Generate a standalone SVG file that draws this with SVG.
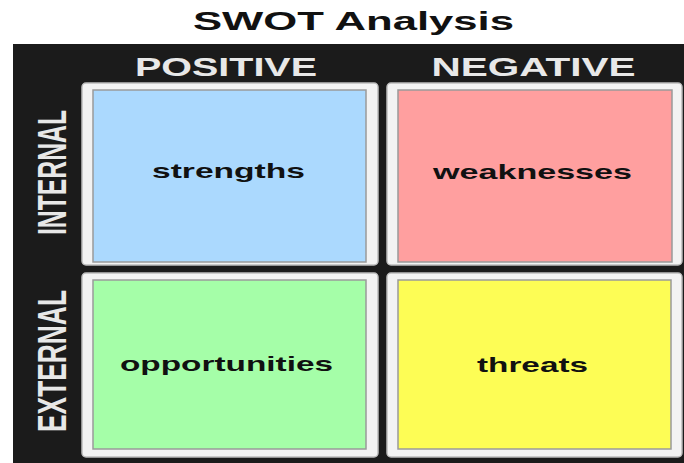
<svg xmlns="http://www.w3.org/2000/svg" width="684" height="463" viewBox="0 0 684 463">
<style>
.title{font-family:"Liberation Sans",Arial,sans-serif;font-weight:bold;font-size:25px;fill:#111;text-anchor:middle}
.hdr{font-family:"Liberation Sans",Arial,sans-serif;font-weight:bold;font-size:25px;fill:#e8e8e8;text-anchor:middle}
.side{font-family:"Liberation Sans",Arial,sans-serif;font-weight:bold;font-size:40px;fill:#e8e8e8;text-anchor:middle}
.lbl{font-family:"Liberation Sans",Arial,sans-serif;font-weight:bold;font-size:21px;fill:#111;text-anchor:middle}
.frame{fill:#f3f3f3;stroke:#bdbdbd;stroke-width:1.5}
.inner{stroke:#9a9a9a;stroke-width:1.5}
</style>
<rect width="684" height="463" fill="#ffffff"/>
<text class="title" x="353.5" y="30" textLength="321" lengthAdjust="spacingAndGlyphs">SWOT Analysis</text>
<rect x="13" y="44" width="671" height="419" fill="#1b1b1b"/>
<text class="hdr" x="226" y="76" textLength="182" lengthAdjust="spacingAndGlyphs">POSITIVE</text>
<text class="hdr" x="533.5" y="76" textLength="204" lengthAdjust="spacingAndGlyphs">NEGATIVE</text>
<text class="side" transform="translate(66,172.5) rotate(-90)" textLength="125" lengthAdjust="spacingAndGlyphs">INTERNAL</text>
<text class="side" transform="translate(66,361) rotate(-90)" textLength="142" lengthAdjust="spacingAndGlyphs">EXTERNAL</text>
<g id="strengths">
<rect class="frame" x="82" y="83" width="296" height="182" rx="4"/>
<rect class="inner" x="93" y="90" width="273" height="172" fill="#abd9fe"/>
<text class="lbl" x="228.5" y="178" textLength="153" lengthAdjust="spacingAndGlyphs">strengths</text>
</g>
<g id="weaknesses">
<rect class="frame" x="387" y="83" width="295" height="182" rx="4"/>
<rect class="inner" x="398" y="90" width="274" height="172" fill="#ff9f9f"/>
<text class="lbl" x="532.5" y="179" textLength="199" lengthAdjust="spacingAndGlyphs">weaknesses</text>
</g>
<g id="opportunities">
<rect class="frame" x="82" y="273" width="296" height="184" rx="4"/>
<rect class="inner" x="93" y="280" width="273" height="169" fill="#a5fea8"/>
<text class="lbl" x="226.5" y="371" textLength="213" lengthAdjust="spacingAndGlyphs">opportunities</text>
</g>
<g id="threats">
<rect class="frame" x="387" y="273" width="295" height="184" rx="4"/>
<rect class="inner" x="398" y="280" width="273" height="169" fill="#fdfd55"/>
<text class="lbl" x="532.5" y="372" textLength="111" lengthAdjust="spacingAndGlyphs">threats</text>
</g>
</svg>
